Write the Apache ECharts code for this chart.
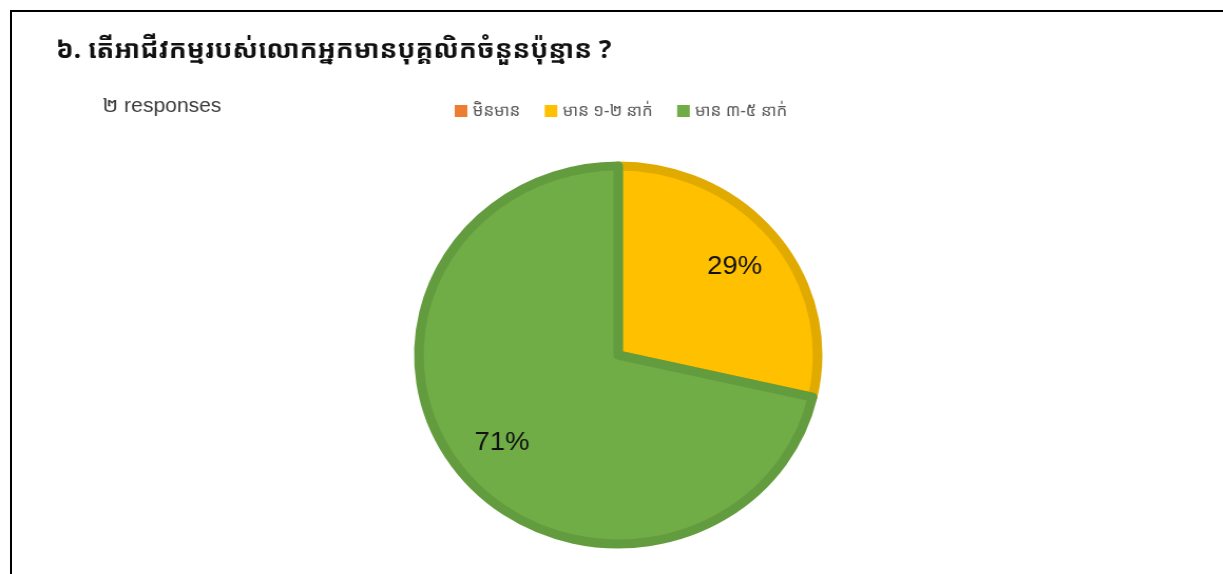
<!DOCTYPE html>
<html>
<head>
<meta charset="utf-8">
<script src="https://cdn.jsdelivr.net/npm/echarts@6/dist/echarts.min.js"></script>
<style>
  html, body { margin: 0; padding: 0; background: #fff; overflow: hidden; }
  /* the chart is drawn slightly wider than tall */
  #chart {
    position: absolute; left: 0; top: 0; width: 1160px; height: 574px;
    transform: scale(1.055, 1); transform-origin: 0 0;
  }
  #frame {
    position: absolute; left: 10px; top: 10px; right: 0; bottom: 0;
    border-left: 2px solid #000; border-top: 2px solid #000;
    pointer-events: none;
  }
</style>
</head>
<body>
<div id="chart"></div>
<div id="frame"></div>
<script>
// Survey question 6: how many employees does the business have?
const titleText = '៦. តើអាជីវកម្មរបស់លោកអ្នកមានបុគ្គលិកចំនួនប៉ុន្មាន ?';
const responsesText = '២ responses';
const categories = ['មិនមាន', 'មាន ១-២ នាក់', 'មាន ៣-៥ នាក់'];
const counts = [0, 2, 5];

const fills = ['#ED7D31', '#FFC000', '#70AD47'];
const edges = ['#D9722A', '#E0AA00', '#639C3E'];

const total = counts.reduce((a, b) => a + b, 0);
const sliceData = categories.map((name, i) => ({
  name,
  value: counts[i],
  itemStyle: {
    color: fills[i],
    borderColor: edges[i],
    borderWidth: counts[i] > 0 ? 9 : 0
  }
}));
const labelData = categories.map((name, i) => ({ name, value: counts[i] }));

const chart = echarts.init(document.getElementById('chart'), null, { renderer: 'canvas' });
const khmerFont = '"Noto Sans Khmer", "Khmer OS", "Noto Sans", "DejaVu Sans", sans-serif';
const cx = 586, cy = 355;

chart.setOption({
  animation: false,
  color: fills,
  title: [
    {
      text: titleText,
      left: 48, top: 33,
      textStyle: { fontFamily: khmerFont, fontSize: 25, fontWeight: 'bold', color: '#111' }
    },
    {
      text: responsesText,
      left: 92, top: 91,
      textStyle: { fontFamily: '"Liberation Sans", Arial, ' + khmerFont, fontSize: 20, fontWeight: 'normal', color: '#3c3c3c' }
    }
  ],
  legend: {
    data: categories,
    left: 426, top: 98,
    itemWidth: 12, itemHeight: 12, itemGap: 23,
    icon: 'rect',
    itemStyle: { borderWidth: 0 },
    textStyle: { fontFamily: khmerFont, fontSize: 16, color: '#595959' }
  },
  series: [
    {
      type: 'pie',
      center: [cx, cy],
      radius: ['0%', 189],
      startAngle: 90,
      clockwise: true,
      silent: true,
      label: { show: false },
      labelLine: { show: false },
      data: sliceData
    },
    {
      // transparent ring that carries the percentage labels
      type: 'pie',
      center: [cx, cy],
      radius: [80, 196],
      startAngle: 90,
      clockwise: true,
      silent: true,
      legendHoverLink: false,
      itemStyle: { color: 'rgba(0,0,0,0)', borderWidth: 0 },
      label: {
        show: true,
        position: 'inside',
        fontFamily: '"Liberation Sans", Arial, sans-serif',
        fontSize: 26,
        color: '#111',
        formatter: p => p.value > 0 ? Math.round(p.value / total * 100) + '%' : ''
      },
      labelLine: { show: false },
      data: labelData
    }
  ]
});
</script>
</body>
</html>
